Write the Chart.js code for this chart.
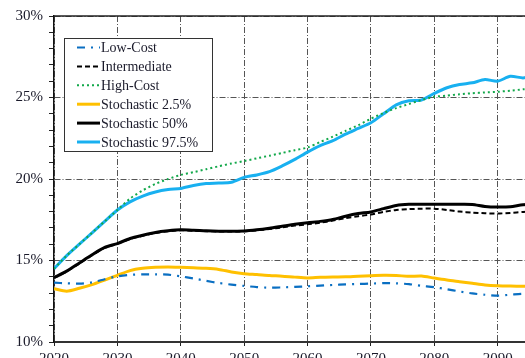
<!DOCTYPE html>
<html>
<head>
<meta charset="utf-8">
<script src="https://cdn.jsdelivr.net/npm/chart.js@4.4.0/dist/chart.umd.min.js"></script>
<style>
  html, body { margin: 0; padding: 0; background: #fff; overflow: hidden; }
  #wrap { position: relative; width: 600px; height: 372px; }
</style>
</head>
<body>
<div id="wrap"><canvas id="c" width="600" height="372"></canvas></div>
<script>
// years sampled every 2 years
var years = [2020, 2022, 2024, 2026, 2028, 2030, 2032, 2034, 2036, 2038,
             2040, 2042, 2044, 2046, 2048, 2050, 2052, 2054, 2056, 2058,
             2060, 2062, 2064, 2066, 2068, 2070, 2072, 2074, 2076, 2078,
             2080, 2082, 2084, 2086, 2088, 2090, 2092, 2094, 2096, 2098, 2100];

var lowCost = [13.64, 13.60, 13.58, 13.66, 13.85, 14.03, 14.12, 14.15, 14.15, 14.13,
               14.03, 13.90, 13.75, 13.62, 13.52, 13.44, 13.37, 13.33, 13.35, 13.38,
               13.42, 13.46, 13.50, 13.53, 13.56, 13.58, 13.61, 13.60, 13.55, 13.45,
               13.36, 13.24, 13.10, 12.98, 12.90, 12.84, 12.90, 12.96, 12.98, 13.00, 13.00];

var intermediate = [13.93, 14.32, 14.82, 15.32, 15.77, 16.02, 16.32, 16.52, 16.69, 16.79,
                    16.85, 16.83, 16.80, 16.78, 16.78, 16.79, 16.85, 16.93, 17.03, 17.14,
                    17.22, 17.32, 17.45, 17.60, 17.72, 17.82, 17.98, 18.10, 18.15, 18.18,
                    18.18, 18.10, 18.00, 17.94, 17.90, 17.88, 17.92, 17.98, 18.00, 18.02, 18.03];

var highCost = [14.50, 15.30, 16.00, 16.70, 17.40, 18.10, 18.80, 19.30, 19.70, 20.00,
                20.25, 20.42, 20.60, 20.78, 20.95, 21.10, 21.27, 21.43, 21.60, 21.77,
                21.93, 22.27, 22.60, 22.95, 23.30, 23.70, 24.05, 24.35, 24.60, 24.85,
                25.04, 25.12, 25.20, 25.26, 25.31, 25.35, 25.42, 25.50, 25.56, 25.62, 25.68];

var stoch025 = [13.27, 13.12, 13.30, 13.52, 13.80, 14.09, 14.38, 14.52, 14.58, 14.60,
                14.58, 14.55, 14.52, 14.45, 14.30, 14.19, 14.14, 14.08, 14.04, 13.98,
                13.93, 13.97, 13.99, 14.00, 14.04, 14.07, 14.09, 14.08, 14.03, 14.05,
                13.92, 13.80, 13.70, 13.60, 13.50, 13.45, 13.43, 13.42, 13.42, 13.42, 13.42];

var stoch50 = [13.95, 14.35, 14.85, 15.35, 15.80, 16.04, 16.35, 16.55, 16.72, 16.82,
               16.88, 16.86, 16.82, 16.80, 16.80, 16.81, 16.88, 16.98, 17.10, 17.22,
               17.32, 17.40, 17.52, 17.72, 17.88, 17.98, 18.18, 18.38, 18.45, 18.45,
               18.45, 18.45, 18.45, 18.44, 18.32, 18.28, 18.30, 18.42, 18.45, 18.45, 18.45];

var stoch975 = [14.50, 15.30, 16.00, 16.70, 17.40, 18.10, 18.60, 18.95, 19.20, 19.35,
                19.42, 19.60, 19.72, 19.75, 19.80, 20.10, 20.25, 20.45, 20.80, 21.20,
                21.65, 22.05, 22.35, 22.75, 23.10, 23.45, 24.00, 24.55, 24.80, 24.85,
                25.25, 25.60, 25.80, 25.90, 26.10, 26.00, 26.30, 26.20, 26.30, 26.40, 26.40];

var seriesLabels = ['Low-Cost', 'Intermediate', 'High-Cost',
                    'Stochastic 2.5%', 'Stochastic 50%', 'Stochastic 97.5%'];

function pts(vals) {
  return vals.map(function(v, i) { return { x: years[i], y: v }; });
}

var serif = '"Liberation Serif", "Times New Roman", serif';

// legend drawn inside the plot, plus solid top frame line
var boxLegend = {
  id: 'boxLegend',
  afterDraw: function(chart) {
    var ctx = chart.ctx;
    var a = chart.chartArea;
    ctx.save();
    ctx.strokeStyle = '#222';
    ctx.lineWidth = 1.5;
    ctx.beginPath();
    ctx.moveTo(a.left, a.top);
    ctx.lineTo(a.right, a.top);
    ctx.stroke();

    var bx = 64, by = 38, bw = 148, bh = 113;
    ctx.fillStyle = '#fff';
    ctx.fillRect(bx, by, bw, bh);
    ctx.strokeStyle = '#333';
    ctx.lineWidth = 1;
    ctx.strokeRect(bx + 0.5, by + 0.5, bw, bh);

    ctx.font = '14px ' + serif;
    ctx.textBaseline = 'middle';
    chart.data.datasets.forEach(function(ds, i) {
      var y = 47.5 + i * 18.9;
      ctx.strokeStyle = ds.borderColor;
      ctx.lineWidth = ds.borderWidth;
      ctx.setLineDash(ds.borderDash || []);
      ctx.lineCap = 'butt';
      ctx.beginPath();
      ctx.moveTo(77, y);
      ctx.lineTo(100, y);
      ctx.stroke();
      ctx.setLineDash([]);
      ctx.fillStyle = '#1a1a2a';
      ctx.fillText(ds.label, 101, y + 1);
    });
    ctx.restore();
  }
};

new Chart(document.getElementById('c'), {
  type: 'line',
  data: {
    datasets: [
      { label: seriesLabels[0], data: pts(lowCost), borderColor: '#0a6fc2', borderWidth: 2.2, borderDash: [8, 6, 2, 6] },
      { label: seriesLabels[1], data: pts(intermediate), borderColor: '#000', borderWidth: 2, borderDash: [5, 3] },
      { label: seriesLabels[2], data: pts(highCost), borderColor: '#12a84a', borderWidth: 2, borderDash: [2, 3] },
      { label: seriesLabels[3], data: pts(stoch025), borderColor: '#ffc000', borderWidth: 3 },
      { label: seriesLabels[4], data: pts(stoch50), borderColor: '#000', borderWidth: 3 },
      { label: seriesLabels[5], data: pts(stoch975), borderColor: '#18b0f0', borderWidth: 3 }
    ]
  },
  options: {
    responsive: false,
    animation: false,
    layout: { padding: { top: 16, right: 39, bottom: 0, left: 0 } },
    elements: { point: { radius: 0 }, line: { tension: 0.25, fill: false } },
    plugins: { legend: { display: false }, tooltip: { enabled: false } },
    scales: {
      x: {
        type: 'linear',
        min: 2020,
        max: 2100,
        afterFit: function(s) { s.height = 30; },
        ticks: {
          stepSize: 10,
          autoSkip: false,
          maxRotation: 0,
          padding: 4,
          color: '#1a1a2a',
          font: { family: serif, size: 15 },
          callback: function(v) { return String(v); }
        },
        grid: { color: '#555', lineWidth: 1, tickColor: '#222', tickLength: 4, tickBorderDash: [] },
        border: { color: '#333', width: 2, dash: [6, 2, 1, 2] }
      },
      y: {
        min: 10,
        max: 30,
        afterFit: function(s) { s.width = 54; },
        ticks: {
          stepSize: 1,
          autoSkip: false,
          padding: 6,
          color: '#1a1a2a',
          font: { family: serif, size: 15 },
          callback: function(v) { return v % 5 === 0 ? v + '%' : ''; }
        },
        grid: {
          color: function(c) { return c.tick && c.tick.value % 5 === 0 ? '#555' : 'rgba(0,0,0,0)'; },
          lineWidth: 1,
          tickColor: '#222',
          tickLength: 5,
          tickBorderDash: []
        },
        border: { color: '#111', width: 1.5, dash: [6, 2, 1, 2] }
      }
    }
  },
  plugins: [boxLegend]
});
</script>
</body>
</html>
